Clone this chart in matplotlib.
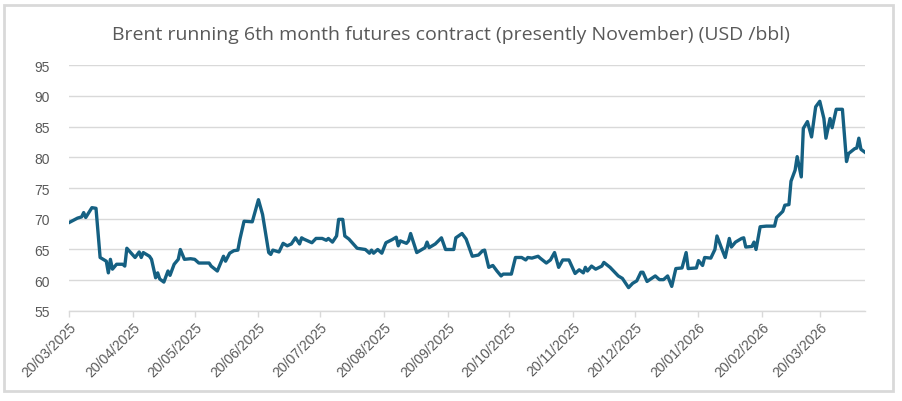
import matplotlib
matplotlib.use("Agg")
import matplotlib.pyplot as plt
import matplotlib.dates as mdates
from matplotlib.patches import Rectangle
import pandas as pd

start_date = "2025-03-20"
day_offsets = [0, 4, 6, 7, 8, 11, 13, 15, 18, 19, 20, 21, 23, 26, 27, 28, 32, 34, 35, 36,
               39, 40, 42, 43, 44, 46, 48, 49, 51, 53, 54, 56, 59, 61, 63, 68, 69, 72, 75, 76,
               78, 80, 82, 83, 85, 89, 92, 94, 95, 97, 98, 99, 102, 104, 106, 108, 110, 112, 113, 114,
               118, 120, 123, 125, 126, 128, 130, 131, 133, 134, 136, 140, 144, 146, 147, 148, 150, 152, 154, 157,
               159, 160, 161, 164, 165, 166, 169, 173, 174, 175, 178, 181, 183, 187, 188, 191, 193, 196, 199, 201,
               202, 204, 206, 208, 210, 211, 215, 217, 220, 222, 223, 225, 228, 229, 232, 234, 235, 236, 238, 240,
               243, 246, 248, 250, 251, 252, 254, 256, 259, 260, 263, 265, 267, 269, 272, 274, 276, 278, 279, 281,
               285, 287, 289, 291, 293, 295, 298, 300, 301, 305, 306, 308, 309, 312, 314, 315, 317, 319, 321, 322,
               324, 327, 328, 329, 332, 333, 334, 336, 339, 343, 344, 347, 348, 350, 351, 353, 354, 356, 357, 359,
               361, 363, 365, 367, 368, 370, 371, 373, 376, 378, 379, 382, 383, 384, 385, 387]
prices = [69.4, 70.1, 70.3, 71.0, 70.2, 71.8, 71.7, 63.7, 63.1, 61.2, 63.4, 61.8, 62.6, 62.6, 62.3, 65.2, 63.7, 64.6, 63.7, 64.5,
          63.9, 63.4, 60.4, 61.2, 60.2, 59.7, 61.5, 60.8, 62.6, 63.4, 65.0, 63.4, 63.5, 63.4, 62.8, 62.8, 62.3, 61.5, 63.9, 63.1,
          64.4, 64.8, 64.9, 66.7, 69.6, 69.5, 73.1, 70.7, 68.6, 64.5, 64.2, 64.9, 64.6, 66.0, 65.6, 65.9, 66.9, 65.9, 66.9, 66.7,
          66.1, 66.8, 66.8, 66.5, 66.8, 66.2, 67.2, 69.9, 69.9, 67.2, 66.7, 65.2, 65.0, 64.4, 64.9, 64.4, 65.0, 64.4, 66.1, 66.6,
          67.0, 65.6, 66.4, 66.0, 66.4, 67.6, 64.5, 65.3, 66.2, 65.3, 65.9, 66.9, 65.0, 65.0, 66.9, 67.6, 66.7, 63.9, 64.1, 64.8,
          64.9, 62.1, 62.4, 61.5, 60.7, 61.0, 61.0, 63.7, 63.7, 63.3, 63.7, 63.6, 63.9, 63.6, 62.8, 63.3, 63.9, 64.5, 62.1, 63.3,
          63.3, 61.1, 61.7, 61.2, 62.1, 61.5, 62.3, 61.8, 62.3, 62.9, 62.1, 61.4, 60.7, 60.3, 58.8, 59.5, 59.9, 61.3, 61.3, 59.8,
          60.7, 60.1, 60.1, 60.7, 59.0, 61.9, 62.0, 64.5, 61.9, 62.0, 63.2, 62.4, 63.7, 63.6, 65.0, 67.2, 65.4, 63.7, 66.8, 65.4,
          66.2, 66.8, 66.9, 65.4, 65.5, 66.2, 65.0, 68.7, 68.8, 68.8, 70.2, 71.2, 72.2, 72.3, 76.1, 77.9, 80.1, 76.8, 84.7, 85.8,
          83.3, 88.2, 89.1, 86.3, 83.1, 86.3, 84.8, 87.8, 87.8, 79.3, 80.6, 81.4, 81.5, 83.1, 81.3, 80.8]
tick_dates = ["2025-03-20", "2025-04-20", "2025-05-20", "2025-06-20", "2025-07-20", "2025-08-20",
              "2025-09-20", "2025-10-20", "2025-11-20", "2025-12-20", "2026-01-20", "2026-02-20", "2026-03-20"]
y_ticks = [55, 60, 65, 70, 75, 80, 85, 90, 95]
title = "Brent running 6th month futures contract (presently November) (USD /bbl)"

dates = pd.Timestamp(start_date) + pd.to_timedelta(day_offsets, unit="D")

fig = plt.figure(figsize=(9.02, 4.02), dpi=100)
ax = fig.add_axes([0.0768, 0.2239, 0.959 - 0.0768, 0.8358 - 0.2239])

ax.plot(dates, prices, color="#156082", linewidth=2.4, solid_joinstyle="round")

ax.set_ylim(55, 95)
ax.set_yticks(y_ticks)
ax.set_xlim(dates[0], dates[-1])
ax.set_xticks(pd.to_datetime(tick_dates))
ax.xaxis.set_major_formatter(mdates.DateFormatter("%d/%m/%Y"))

ax.grid(axis="y", color="#d9d9d9", linewidth=1.0)
ax.set_axisbelow(True)
for s in ["top", "right", "left"]:
    ax.spines[s].set_visible(False)
ax.spines["bottom"].set_color("#d9d9d9")
ax.spines["bottom"].set_linewidth(1.0)

ax.tick_params(axis="y", length=0, pad=14, labelsize=10, labelcolor="#595959")
ax.tick_params(axis="x", length=4, color="#d9d9d9", width=1.0, pad=2,
               labelsize=10, labelcolor="#595959")
for lbl in ax.get_xticklabels():
    lbl.set_rotation(45)
    lbl.set_ha("right")
    lbl.set_va("top")
    lbl.set_rotation_mode("anchor")
for lbl in ax.get_xticklabels() + ax.get_yticklabels():
    lbl.set_fontfamily(["Liberation Sans", "DejaVu Sans"])

fig.text(0.5, 0.913, title, ha="center", va="center", fontsize=14.0,
         color="#595959", family=["Open Sans", "DejaVu Sans"])

fig.patches.append(Rectangle((0.004, 0.025), 0.986, 0.96, transform=fig.transFigure,
                             fill=False, edgecolor="#d9d9d9", linewidth=2))

fig.savefig("out.png", dpi=100, facecolor="white")
